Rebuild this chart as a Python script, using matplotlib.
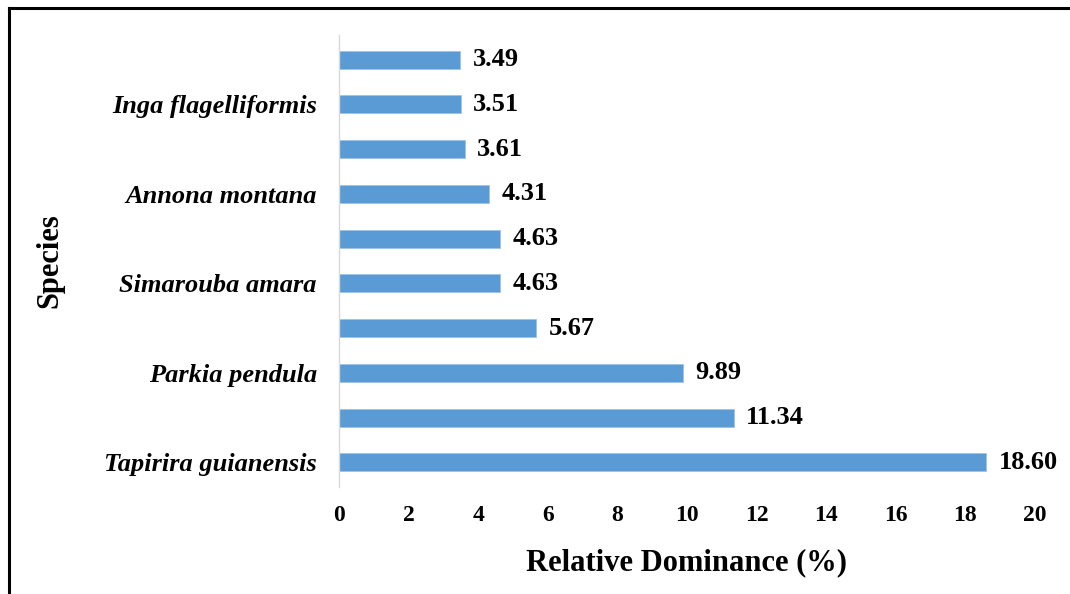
import matplotlib
matplotlib.use("Agg")
import matplotlib.pyplot as plt
from matplotlib.lines import Line2D

# Data (bottom to top)
values = [18.60, 11.34, 9.89, 5.67, 4.63, 4.63, 4.31, 3.61, 3.51, 3.49]
tick_labels = ["Tapirira guianensis", "", "Parkia pendula", "", "Simarouba amara",
               "", "Annona montana", "", "Inga flagelliformis", ""]
value_labels = ["18.60", "11.34", "9.89", "5.67", "4.63", "4.63", "4.31", "3.61", "3.51", "3.49"]
x_ticks = [0, 2, 4, 6, 8, 10, 12, 14, 16, 18, 20]

W, H = 1070, 594
fig = plt.figure(figsize=(W / 100, H / 100), dpi=100)
fig.patch.set_facecolor("white")

ax = fig.add_axes([339 / W, 1 - 487 / H, (1035 - 339) / W, (487 - 35) / H])

serif = ["Liberation Serif", "DejaVu Serif"]
pos = list(range(len(values)))
ax.barh(pos, values, height=0.4, color="#5B9BD5", edgecolor="#9DC3E6", linewidth=0.6)
ax.set_ylim(-0.55, len(values) - 0.45)
ax.set_xlim(0, 20)

for p, v, s in zip(pos, values, value_labels):
    ax.text(v + 0.35, p, s, va="center", ha="left", fontsize=19, fontweight="bold",
            family=serif, color="black")

ax.set_yticks(pos)
ax.set_yticklabels(tick_labels, fontsize=19, fontweight="bold", fontstyle="italic", family=serif)
ax.set_xticks(x_ticks)
ax.set_xticklabels([str(t) for t in x_ticks], fontsize=17, fontweight="bold", family=serif)
ax.tick_params(axis="both", length=0)
ax.tick_params(axis="x", pad=13)
ax.tick_params(axis="y", pad=16)

for sp in ["top", "right", "bottom"]:
    ax.spines[sp].set_visible(False)
ax.spines["left"].set_color("#D9D9D9")
ax.spines["left"].set_linewidth(1.0)

ax.set_xlabel("Relative Dominance (%)", fontsize=22, fontweight="bold", family=serif, labelpad=16)
ax.set_ylabel("Species", fontsize=22, fontweight="bold", family=serif)
ax.yaxis.set_label_coords(-0.394, 0.5)

# outer frame (top and left edges visible)
fig.add_artist(Line2D([9 / W, 9 / W], [0, 1 - 8 / H], transform=fig.transFigure, color="black", linewidth=2.2))
fig.add_artist(Line2D([9 / W, 1], [1 - 8 / H, 1 - 8 / H], transform=fig.transFigure, color="black", linewidth=2.2))

fig.savefig("out.png", dpi=100, facecolor="white")
